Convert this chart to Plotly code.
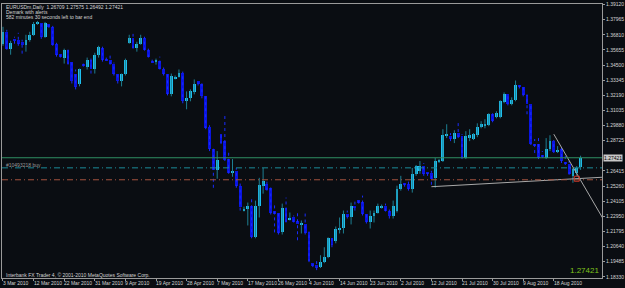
import plotly.graph_objects as go

# ---------------- data (EURUSDm, Daily) ----------------
opens = [1.3613,1.3704,1.3575,1.3650,1.3643,1.3628,1.3605,1.3643,1.3681,1.3764,
         1.3772,1.3666,1.3764,1.3742,1.3613,1.3537,1.3507,1.3567,1.3476,1.3385,
         1.3302,1.3461,1.3438,1.3491,1.3423,1.3529,1.3582,1.3495,1.3491,1.3461,
         1.3385,1.3325,1.3378,1.3620,1.3658,1.3582,1.3613,1.3658,1.3567,1.3480,
         1.3476,1.3484,1.3423,1.3385,1.3226,1.3347,1.3362,1.3393,1.3173,1.3196,
         1.3241,1.3325,1.3309,1.3211,1.2975,1.2808,1.2650,1.2922,1.2869,1.2732,
         1.2627,1.2642,1.2529,1.2339,1.2354,1.2377,1.2134,1.2377,1.2529,1.2544,
         1.2513,1.2332,1.2324,1.2172,1.2362,1.2271,1.2286,1.2263,1.2236,1.2240,
         1.2172,1.1937,1.1922,1.1907,1.1945,1.1983,1.2127,1.2104,1.2195,1.2202,
         1.2316,1.2286,1.2377,1.2423,1.2407,1.2316,1.2255,1.2294,1.2324,1.2366,
         1.2377,1.2339,1.2294,1.2339,1.2506,1.2551,1.2544,1.2506,1.2620,1.2642,
         1.2679,1.2635,1.2627,1.2589,1.2710,1.2717,1.2914,1.2907,1.2885,1.2930,
         1.2907,1.2740,1.2899,1.2885,1.2914,1.2975,1.2990,1.2990,1.3074,1.3051,
         1.3051,1.3165,1.3226,1.3150,1.3181,1.3290,1.3279,1.3218,1.3150,1.2846,
         1.2846,1.2763,1.2740,1.2808,1.2869,1.2785,1.2808,1.2702,1.2695,1.2604,
         1.2627,1.26709]
highs = [1.3742,1.3719,1.3635,1.3666,1.3696,1.3643,1.3681,1.3704,1.3779,1.3787,
         1.3779,1.3779,1.3772,1.3749,1.3620,1.3544,1.3575,1.3575,1.3491,1.3416,
         1.3423,1.3476,1.3507,1.3507,1.3544,1.3597,1.3590,1.3507,1.3537,1.3469,
         1.3393,1.3385,1.3499,1.3681,1.3688,1.3628,1.3681,1.3666,1.3575,1.3491,
         1.3499,1.3514,1.3431,1.3393,1.3385,1.3370,1.3416,1.3400,1.3249,1.3264,
         1.3340,1.3340,1.3325,1.3226,1.2990,1.2823,1.2793,1.2937,1.3082,1.2793,
         1.2732,1.2664,1.2567,1.2369,1.2400,1.2430,1.2415,1.2589,1.2664,1.2567,
         1.2529,1.2385,1.2339,1.2392,1.2438,1.2324,1.2301,1.2339,1.2263,1.2316,
         1.2179,1.1945,1.1975,1.1998,1.2059,1.2134,1.2149,1.2217,1.2286,1.2339,
         1.2339,1.2400,1.2407,1.2438,1.2453,1.2324,1.2339,1.2339,1.2392,1.2385,
         1.2392,1.2369,1.2415,1.2529,1.2604,1.2559,1.2567,1.2664,1.2687,1.2717,
         1.2702,1.2642,1.2642,1.2740,1.2732,1.2960,1.2998,1.2930,1.2952,1.3021,
         1.2922,1.2945,1.2960,1.2930,1.3005,1.3021,1.3036,1.3082,1.3082,1.3097,
         1.3181,1.3241,1.3234,1.3203,1.3332,1.3302,1.3287,1.3226,1.3158,1.2885,
         1.2899,1.2793,1.2892,1.2914,1.2877,1.2831,1.2823,1.2755,1.2717,1.2664,
         1.2679,1.27575]
lows = [1.3597,1.3567,1.3529,1.3613,1.3597,1.3537,1.3552,1.3628,1.3673,1.3757,
        1.3650,1.3658,1.3734,1.3597,1.3514,1.3507,1.3461,1.3453,1.3309,1.3264,
        1.3287,1.3438,1.3416,1.3385,1.3385,1.3507,1.3476,1.3484,1.3453,1.3370,
        1.3309,1.3287,1.3370,1.3613,1.3575,1.3552,1.3605,1.3560,1.3507,1.3469,
        1.3453,1.3416,1.3370,1.3218,1.3211,1.3340,1.3355,1.3158,1.3112,1.3173,
        1.3226,1.3294,1.3196,1.2960,1.2793,1.2513,1.2582,1.2846,1.2717,1.2620,
        1.2597,1.2513,1.2339,1.2332,1.2225,1.2127,1.2127,1.2286,1.2468,1.2491,
        1.2309,1.2172,1.2156,1.2156,1.2248,1.2263,1.2248,1.2112,1.2164,1.2156,
        1.1945,1.1907,1.1884,1.1900,1.1937,1.1975,1.2059,1.2089,1.2164,1.2164,
        1.2278,1.2233,1.2339,1.2392,1.2301,1.2240,1.2202,1.2248,1.2316,1.2354,
        1.2332,1.2278,1.2278,1.2324,1.2491,1.2521,1.2491,1.2476,1.2604,1.2620,
        1.2604,1.2604,1.2536,1.2513,1.2702,1.2710,1.2892,1.2869,1.2854,1.2892,
        1.2732,1.2732,1.2869,1.2877,1.2899,1.2967,1.2967,1.2983,1.3013,1.3043,
        1.3043,1.3158,1.3142,1.3142,1.3173,1.3271,1.3211,1.3074,1.2839,1.2778,
        1.2732,1.2740,1.2732,1.2793,1.2778,1.2778,1.2702,1.2687,1.2612,1.2551,
        1.2604,1.26492]
closes = [1.3704,1.3575,1.3620,1.3635,1.3613,1.3605,1.3643,1.3681,1.3764,1.3776,
          1.3666,1.3772,1.3742,1.3605,1.3529,1.3514,1.3567,1.3461,1.3325,1.3279,
          1.3416,1.3446,1.3491,1.3423,1.3529,1.3590,1.3491,1.3488,1.3461,1.3378,
          1.3325,1.3378,1.3491,1.3658,1.3582,1.3613,1.3658,1.3567,1.3514,1.3472,
          1.3491,1.3423,1.3378,1.3226,1.3370,1.3362,1.3393,1.3173,1.3196,1.3249,
          1.3309,1.3309,1.3211,1.2967,1.2808,1.2650,1.2725,1.2854,1.2725,1.2627,
          1.2642,1.2529,1.2369,1.2354,1.2377,1.2134,1.2377,1.2536,1.2567,1.2498,
          1.2324,1.2320,1.2164,1.2362,1.2255,1.2278,1.2255,1.2233,1.2244,1.2164,
          1.1953,1.1915,1.1907,1.1945,1.1983,1.2127,1.2074,1.2195,1.2202,1.2309,
          1.2286,1.2377,1.2362,1.2400,1.2316,1.2248,1.2301,1.2324,1.2377,1.2373,
          1.2339,1.2294,1.2377,1.2506,1.2544,1.2536,1.2506,1.2620,1.2679,1.2679,
          1.2620,1.2620,1.2582,1.2717,1.2725,1.2914,1.2922,1.2885,1.2930,1.2899,
          1.2740,1.2907,1.2914,1.2922,1.2975,1.2998,1.2998,1.3074,1.3021,1.3082,
          1.3173,1.3226,1.3150,1.3181,1.3294,1.3283,1.3218,1.3150,1.2846,1.2839,
          1.2740,1.2748,1.2808,1.2869,1.2785,1.2801,1.2717,1.2695,1.2620,1.2657,
          1.2664,1.27421]

date_labels = ["3 Mar 2010", "12 Mar 2010", "22 Mar 2010", "31 Mar 2010", "9 Apr 2010",
               "19 Apr 2010", "28 Apr 2010", "7 May 2010", "17 May 2010", "26 May 2010",
               "4 Jun 2010", "14 Jun 2010", "23 Jun 2010", "2 Jul 2010", "12 Jul 2010",
               "21 Jul 2010", "30 Jul 2010", "9 Aug 2010", "18 Aug 2010"]
date_label_bars = list(range(0, 8 * len(date_labels), 8))

price_ticks = [1.39120, 1.37965, 1.36810, 1.35655, 1.34500, 1.33345, 1.32190, 1.31035,
               1.29880, 1.28725, 1.26415, 1.25260, 1.24105, 1.22950, 1.21795, 1.20640,
               1.19485, 1.18330]

bid_price = 1.27421
order_price = 1.2665
stop_price = 1.2574
order_label = "#10493218 buy"
trend1 = [(112, 1.2521), (151, 1.2584)]
trend2 = [(144, 1.2922), (151, 1.2571)]
marker_point = (150, 1.2582)

title_lines = ["EURUSDm,Daily  1.26709 1.27575 1.26492 1.27421",
               "Demark with alerts",
               "582 minutes 30 seconds left to bar end"]
copyright_text = "Interbank FX Trader 4, \u00a9 2001-2010 MetaQuotes Software Corp."

# ---------------- styling ----------------
BG = "#0a0d12"
AXIS = "#9a9a9a"
TXT = "#d4d4d4"
BULL = "#1fbfee"
BEAR = "#0a14e0"
BULL_WICK = "#1d7f92"
BEAR_WICK = "#1a2cff"
FONT = "Liberation Sans"
XMIN, XMAX = -0.26, 156.6
YMIN, YMAX = 1.1824, 1.3916
MIN_BODY = 0.0008

fig = go.Figure()

n = len(opens)
idx = list(range(n))
bull = [i for i in idx if closes[i] >= opens[i]]
bear = [i for i in idx if closes[i] < opens[i]]


def wick_xy(ids):
    xs, ys = [], []
    for i in ids:
        xs += [i, i, None]
        ys += [lows[i], highs[i], None]
    return xs, ys


bx, by = wick_xy(bull)
fig.add_trace(go.Scatter(x=bx, y=by, mode="lines", line=dict(color=BULL_WICK, width=1),
                         hoverinfo="skip", showlegend=False))
sx, sy = wick_xy(bear)
fig.add_trace(go.Scatter(x=sx, y=sy, mode="lines", line=dict(color=BEAR_WICK, width=1, dash="dot"),
                         hoverinfo="skip", showlegend=False))


def body(ids, color):
    base = [min(opens[i], closes[i]) for i in ids]
    h = [max(abs(closes[i] - opens[i]), MIN_BODY) for i in ids]
    fig.add_trace(go.Bar(x=ids, y=h, base=base, width=0.75, marker=dict(color=color, line=dict(width=0)),
                         hoverinfo="skip", showlegend=False))


body(bull, BULL)
body(bear, BEAR)

# trend lines (extended as rays to the right edge)
for (x0, y0), (x1, y1), in [trend1, trend2]:
    slope = (y1 - y0) / (x1 - x0)
    fig.add_trace(go.Scatter(x=[x0, XMAX + 1], y=[y0, y0 + slope * (XMAX + 1 - x0)], mode="lines",
                             line=dict(color="#a9a9a9", width=1), hoverinfo="skip", showlegend=False,
                             cliponaxis=True))

fig.add_trace(go.Scatter(x=[marker_point[0]], y=[marker_point[1]], mode="markers",
                         marker=dict(symbol="square-open", size=5, color="#d23a2a", line=dict(width=1)),
                         hoverinfo="skip", showlegend=False))

shapes = [
    dict(type="line", xref="paper", x0=0, x1=1, yref="y", y0=bid_price, y1=bid_price,
         line=dict(color="#2f8f63", width=1)),
    dict(type="line", xref="paper", x0=0, x1=1, yref="y", y0=order_price, y1=order_price,
         line=dict(color="#1c8c99", width=1, dash="6px,3px,1px,3px")),
    dict(type="line", xref="paper", x0=0, x1=1, yref="y", y0=stop_price, y1=stop_price,
         line=dict(color="#a4533f", width=1, dash="6px,3px,1px,3px")),
]

ann = []
for k, t in enumerate(title_lines):
    ann.append(dict(text=t, xref="paper", yref="paper", x=0, y=1, xanchor="left", yanchor="middle",
                    xshift=2, yshift=-(3 + 5.2 * k), showarrow=False, font=dict(size=5, color=TXT, family=FONT)))
for b, t in zip(date_label_bars, date_labels):
    ann.append(dict(text=t, xref="x", yref="paper", x=b, y=0, xanchor="left", yanchor="middle",
                    xshift=-2, yshift=-5, showarrow=False, font=dict(size=5, color=TXT, family=FONT)))
ann.append(dict(text=copyright_text, xref="paper", yref="paper", x=0, y=0, xanchor="left",
                yanchor="middle", xshift=2, yshift=3, showarrow=False,
                font=dict(size=5, color=TXT, family=FONT)))
ann.append(dict(text=order_label, xref="paper", yref="y", x=0, y=order_price, xanchor="left",
                yanchor="middle", xshift=2, yshift=3, showarrow=False,
                font=dict(size=5, color="#9a9a9a", family=FONT)))
ann.append(dict(text="%.5f" % bid_price, xref="paper", yref="paper", x=1, y=0, xanchor="right",
                yanchor="middle", xshift=-1, yshift=8, showarrow=False,
                font=dict(size=8, color="#7fc31c", family=FONT)))
ann.append(dict(text="%.5f" % bid_price, xref="paper", yref="y", x=1, y=bid_price, xanchor="left",
                yanchor="middle", xshift=1, showarrow=False, bgcolor="#c8c8c8", borderpad=0,
                font=dict(size=5, color="#000000", family=FONT)))

fig.update_layout(
    width=625, height=288, margin=dict(l=1, r=20, t=2, b=10),
    paper_bgcolor=BG, plot_bgcolor=BG, barmode="overlay", bargap=0,
    shapes=shapes, annotations=ann, showlegend=False,
    font=dict(family=FONT, size=5, color=TXT),
    xaxis=dict(range=[XMIN, XMAX], showgrid=False, zeroline=False, showline=True, mirror=True,
               linecolor=AXIS, linewidth=1, tickvals=date_label_bars, showticklabels=False,
               ticks="outside", ticklen=2, tickcolor=AXIS, fixedrange=True),
    yaxis=dict(range=[YMIN, YMAX], side="right", showgrid=False, zeroline=False, showline=True,
               mirror=True, linecolor=AXIS, linewidth=1, tickvals=price_ticks,
               ticktext=["%.5f" % v for v in price_ticks], ticks="outside", ticklen=2,
               ticklabeloverflow="allow",
               tickcolor=AXIS, tickfont=dict(size=5, color=TXT, family=FONT), fixedrange=True),
)

fig.write_html("out.html")
